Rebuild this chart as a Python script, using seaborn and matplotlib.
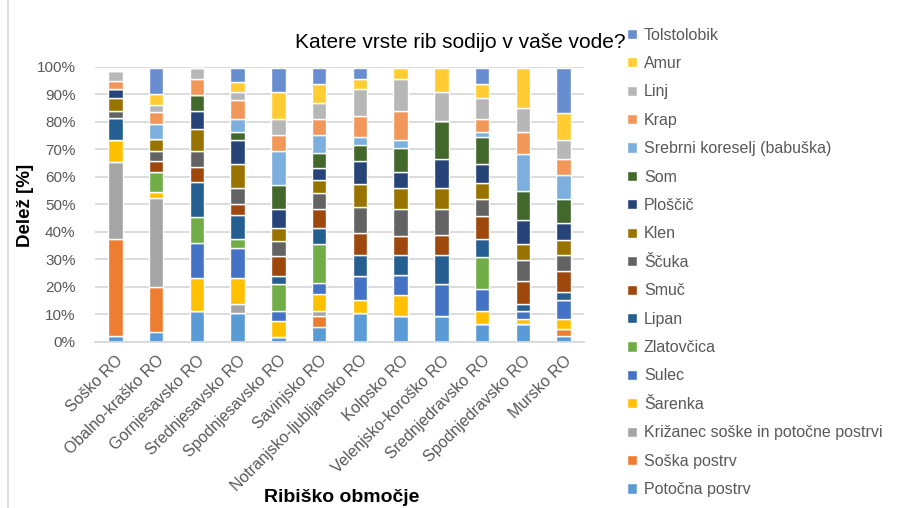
import matplotlib
matplotlib.use("Agg")
import matplotlib.pyplot as plt
from matplotlib.lines import Line2D
import seaborn as sns
import pandas as pd

# ---------------- data ----------------
categories = ["Soško RO", "Obalno-kraško RO", "Gornjesavsko RO", "Srednjesavsko RO",
              "Spodnjesavsko RO", "Savinjsko RO", "Notranjsko-ljubljansko RO", "Kolpsko RO",
              "Velenjsko-koroško RO", "Srednjedravsko RO", "Spodnjedravsko RO", "Mursko RO"]

# stack order bottom -> top
species = ["Potočna postrv", "Soška postrv", "Križanec soške in potočne postrvi", "Šarenka",
           "Sulec", "Zlatovčica", "Lipan", "Smuč", "Ščuka", "Klen", "Ploščič", "Som",
           "Srebrni koreselj (babuška)", "Krap", "Linj", "Amur", "Tolstolobik"]

potocna     = [2.2, 3.6, 11.0, 10.5, 1.7, 5.5, 10.4, 9.5, 9.5, 6.6, 6.6, 2.2]
soska       = [35.3, 16.4, 0, 0, 0, 4.0, 0, 0, 0, 0, 0, 2.4]
krizanec    = [28.0, 32.1, 0, 3.3, 0, 1.8, 0, 0, 0, 0, 0, 0]
sarenka     = [7.8, 2.5, 12.1, 9.2, 5.8, 5.9, 4.9, 7.6, 0, 4.7, 1.8, 3.8]
sulec       = [0, 0, 12.7, 11.2, 3.8, 4.0, 8.7, 7.1, 11.6, 7.8, 2.9, 6.9]
zlatovcica  = [0, 7.2, 9.6, 3.3, 9.8, 14.5, 0, 0, 0, 11.6, 0, 0]
lipan       = [7.9, 0, 12.5, 8.7, 2.9, 5.8, 7.6, 7.5, 10.5, 6.7, 2.5, 2.9]
smuc        = [0, 3.8, 5.8, 4.0, 7.3, 6.7, 8.0, 6.9, 7.1, 8.4, 8.2, 7.6]
scuka       = [2.8, 3.8, 5.8, 5.8, 5.3, 5.8, 9.5, 9.8, 9.5, 6.2, 7.8, 5.8]
klen        = [4.8, 4.3, 7.8, 8.7, 4.9, 4.9, 8.4, 7.6, 7.8, 5.8, 5.9, 5.5]
ploscic     = [3.0, 0, 6.7, 8.7, 6.7, 4.4, 8.2, 5.8, 10.5, 6.9, 8.6, 6.2]
som         = [0, 0, 5.8, 2.9, 8.7, 5.3, 5.8, 8.7, 13.8, 9.6, 10.5, 8.7]
srebrni     = [0, 5.6, 0, 4.7, 12.5, 6.7, 2.9, 2.9, 0, 2.0, 13.6, 8.7]
krap        = [2.9, 4.4, 5.9, 6.9, 5.8, 5.8, 7.8, 10.5, 0, 4.7, 7.8, 5.8]
linj        = [3.8, 2.4, 3.9, 2.9, 5.8, 5.8, 9.6, 11.6, 10.5, 7.8, 8.8, 6.9]
amur        = [0, 3.9, 0, 3.8, 9.8, 6.9, 3.8, 3.9, 8.7, 4.9, 14.5, 9.6]
tolstolobik = [0, 9.7, 0, 4.8, 8.7, 5.8, 3.9, 0, 0, 5.8, 0, 16.5]

series_values = [potocna, soska, krizanec, sarenka, sulec, zlatovcica, lipan, smuc, scuka,
                 klen, ploscic, som, srebrni, krap, linj, amur, tolstolobik]

colors = ["#5B9BD5", "#ED7D31", "#A5A5A5", "#FFC000", "#4472C4", "#70AD47", "#255E91",
          "#9E480E", "#636363", "#997300", "#264478", "#43682B", "#7CAFDD", "#F1975A",
          "#B7B7B7", "#FFCD33", "#698ED0"]

yticks = [0, 10, 20, 30, 40, 50, 60, 70, 80, 90, 100]
ytick_labels = [f"{v}%" for v in yticks]

title = "Katere vrste rib sodijo v vaše vode?"
xlabel = "Ribiško območje"
ylabel = "Delež [%]"

# ---------------- table ----------------
rows = []
for sp, vals in zip(species, series_values):
    for cat, v in zip(categories, vals):
        rows.append({"RO": cat, "Vrsta": sp, "Delež": v})
df = pd.DataFrame(rows)
df["RO"] = pd.Categorical(df["RO"], categories=categories, ordered=True)

palette = dict(zip(species, colors))
hue_order = species[::-1]  # first level ends on top of the stack

# ---------------- plot ----------------
sns.set_theme(style="white")
plt.rcParams["font.family"] = ["Liberation Sans", "DejaVu Sans"]

W, H = 899, 508
fig = plt.figure(figsize=(W / 100, H / 100), dpi=100)
ax = fig.add_axes([95 / W, 1 - 341.7 / H, (584 - 95) / W, (341.7 - 66.7) / H])

sns.histplot(data=df, x="RO", weights="Delež", hue="Vrsta", hue_order=hue_order,
             palette=palette, multiple="stack", discrete=True, shrink=0.36,
             edgecolor="white", linewidth=1.0, alpha=1, ax=ax)

ax.set_xlim(-0.5, len(categories) - 0.5)
ax.set_ylim(0, 100)
ax.set_yticks(yticks)
ax.set_yticklabels(ytick_labels)
ax.yaxis.grid(True, color="#D9D9D9", linewidth=1.3)
ax.set_axisbelow(True)
for s in ["top", "right", "left"]:
    ax.spines[s].set_visible(False)
ax.spines["bottom"].set_color("#D9D9D9")
ax.spines["bottom"].set_linewidth(1.3)

ax.set_xticks(range(len(categories)))
ax.set_xticklabels(categories, rotation=45, ha="right", rotation_mode="anchor",
                   fontsize=11.5, color="#595959")
ax.set_xticks([i - 0.5 for i in range(len(categories) + 1)], minor=True)
ax.tick_params(axis="x", which="major", length=0, pad=8)
ax.tick_params(axis="x", which="minor", length=5, color="#D9D9D9", width=1.3)
ax.tick_params(axis="y", length=0, pad=14, labelsize=11, labelcolor="#595959")

ax.set_xlabel("")
ax.set_ylabel("")
fig.text(342 / W, 1 - 498 / H, xlabel, ha="center", va="center",
         fontsize=14, fontweight="bold", color="black")
fig.text(26 / W, 1 - 205 / H, ylabel, ha="center", va="center", rotation=90,
         fontsize=13.5, fontweight="bold", color="black")
fig.text(460 / W, 1 - 42 / H, title, ha="center", va="center", fontsize=15, color="black")

sns.move_legend(ax, "upper left", bbox_to_anchor=(627 / W, 1 - 27.5 / H),
                bbox_transform=fig.transFigure, frameon=False, title=None,
                fontsize=11.5, labelcolor="#595959", borderpad=0, borderaxespad=0,
                handlelength=0.6, handleheight=0.6, handletextpad=0.45,
                labelspacing=0.84)

fig.add_artist(Line2D([8 / W, 8 / W], [0, 1], color="#D9D9D9", linewidth=1.2,
                      transform=fig.transFigure))

fig.savefig("out.png", dpi=100)
